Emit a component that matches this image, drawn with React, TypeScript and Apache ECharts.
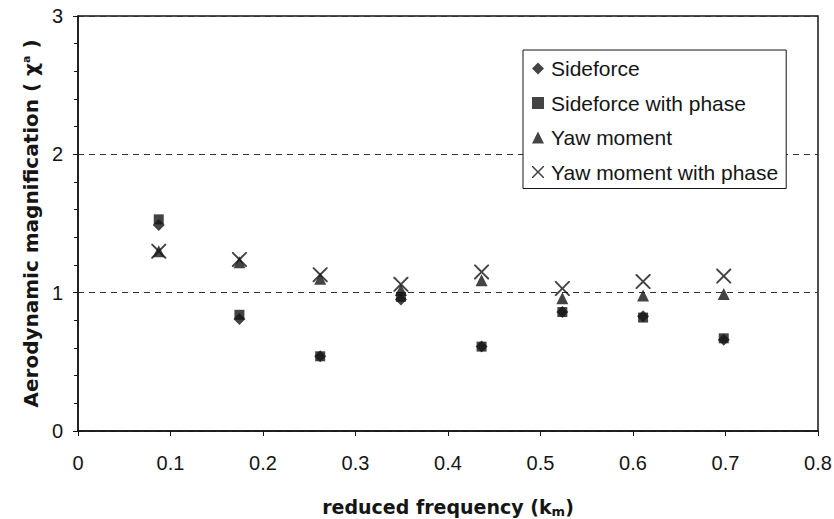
import React, { useEffect, useRef } from "react";
import * as echarts from "echarts";

const kValues = [0.0873, 0.1745, 0.2618, 0.3491, 0.4363, 0.5236, 0.6109, 0.6981];
const sideforce = [1.49, 0.81, 0.54, 0.95, 0.61, 0.86, 0.83, 0.66];
const sideforcePhase = [1.53, 0.84, 0.54, 0.97, 0.61, 0.86, 0.82, 0.67];
const yawMoment = [1.3, 1.22, 1.1, 1.02, 1.09, 0.96, 0.98, 0.99];
const yawMomentPhase = [1.3, 1.24, 1.13, 1.06, 1.15, 1.03, 1.08, 1.12];
const seriesNames = ["Sideforce", "Sideforce with phase", "Yaw moment", "Yaw moment with phase"];

const X_PATH =
  "path://M0,0 L1.8,0 L10,8.2 L18.2,0 L20,0 L20,1.8 L11.8,10 L20,18.2 L20,20 L18.2,20 L10,11.8 L1.8,20 L0,20 L0,18.2 L8.2,10 L0,1.8 Z";

const INK = "#151515";
const FONT = "Liberation Sans, Arial, sans-serif";
const TITLE_FONT = "DejaVu Sans, Liberation Sans, Arial, sans-serif";

function pairs(ys: number[]) {
  return kValues.map((k, i) => [k, ys[i]]);
}

export default function App() {
  const ref = useRef<HTMLDivElement>(null);
  useEffect(() => {
    document.body.style.margin = "0";
    document.body.style.overflow = "hidden";
    document.documentElement.style.overflow = "hidden";
    const chart = echarts.init(ref.current!, undefined, { renderer: "svg" });
    chart.setOption({
      animation: false,
      backgroundColor: "#ffffff",
      textStyle: { fontFamily: FONT, color: INK },
      grid: {
        left: 78,
        right: 16,
        top: 16,
        bottom: 88,
        show: true,
        borderColor: INK,
        borderWidth: 1.5,
        backgroundColor: "transparent",
        containLabel: false,
        outerBoundsMode: "none",
      },
      legend: {
        orient: "vertical",
        left: 523,
        top: 50,
        padding: [8, 8, 6, 9],
        itemGap: 13.5,
        itemWidth: 12,
        itemHeight: 12,
        borderColor: INK,
        borderWidth: 1,
        backgroundColor: "#fff",
        textStyle: { fontSize: 21, color: INK, fontFamily: FONT, padding: [0, 0, 0, 2] },
        data: [
          { name: seriesNames[0], icon: "diamond" },
          { name: seriesNames[1], icon: "rect" },
          { name: seriesNames[2], icon: "triangle" },
          { name: seriesNames[3], icon: X_PATH },
        ],
      },
      xAxis: {
        type: "value",
        min: 0,
        max: 0.8,
        interval: 0.1,
        name: "reduced frequency (k{sub|m})",
        nameLocation: "middle",
        nameGap: 65,
        nameTextStyle: {
          fontSize: 19,
          fontWeight: "bold",
          color: INK,
          fontFamily: TITLE_FONT,
          rich: {
            sub: { fontSize: 13, fontWeight: "bold", padding: [9, 0, 0, 0], color: INK, fontFamily: TITLE_FONT },
          },
        },
        axisLine: { show: true, lineStyle: { color: INK, width: 1.5 } },
        axisTick: { show: true, inside: false, length: 5, lineStyle: { color: INK } },
        axisLabel: {
          fontSize: 20,
          color: INK,
          margin: 22,
          fontFamily: FONT,
          formatter: (v: number) => (v === 0 ? "0" : String(Math.round(v * 10) / 10)),
        },
        splitLine: { show: false },
      },
      yAxis: {
        type: "value",
        min: 0,
        max: 3,
        interval: 1,
        name: "Aerodynamic magnification ( χ{sup|a} )",
        nameLocation: "middle",
        nameGap: 32,
        nameTextStyle: {
          fontSize: 20,
          fontWeight: "bold",
          color: INK,
          fontFamily: TITLE_FONT,
          rich: {
            sup: { fontSize: 11, fontWeight: "bold", padding: [0, 0, 8, 0], color: INK, fontFamily: TITLE_FONT },
          },
        },
        axisLine: { show: true, lineStyle: { color: INK, width: 1.5 } },
        axisTick: { show: true, inside: false, length: 5, lineStyle: { color: INK } },
        minorTick: { show: true, splitNumber: 5, length: 4, lineStyle: { color: INK } },
        axisLabel: { fontSize: 20, color: INK, margin: 15, fontFamily: FONT },
        splitLine: { show: true, lineStyle: { color: "#333", type: [6, 5], width: 1 } },
      },
      series: [
        {
          name: seriesNames[0],
          type: "scatter",
          symbol: "diamond",
          symbolSize: 12,
          itemStyle: { color: INK },
          data: pairs(sideforce),
        },
        {
          name: seriesNames[1],
          type: "scatter",
          symbol: "rect",
          symbolSize: 10,
          itemStyle: { color: INK },
          data: pairs(sideforcePhase),
        },
        {
          name: seriesNames[2],
          type: "scatter",
          symbol: "triangle",
          symbolSize: 12,
          itemStyle: { color: INK },
          data: pairs(yawMoment),
        },
        {
          name: seriesNames[3],
          type: "scatter",
          symbol: X_PATH,
          symbolSize: 15,
          itemStyle: { color: INK },
          data: pairs(yawMomentPhase),
        },
      ],
    });
    return () => chart.dispose();
  }, []);
  return <div ref={ref} style={{ width: 834, height: 519, overflow: "hidden" }} />;
}
